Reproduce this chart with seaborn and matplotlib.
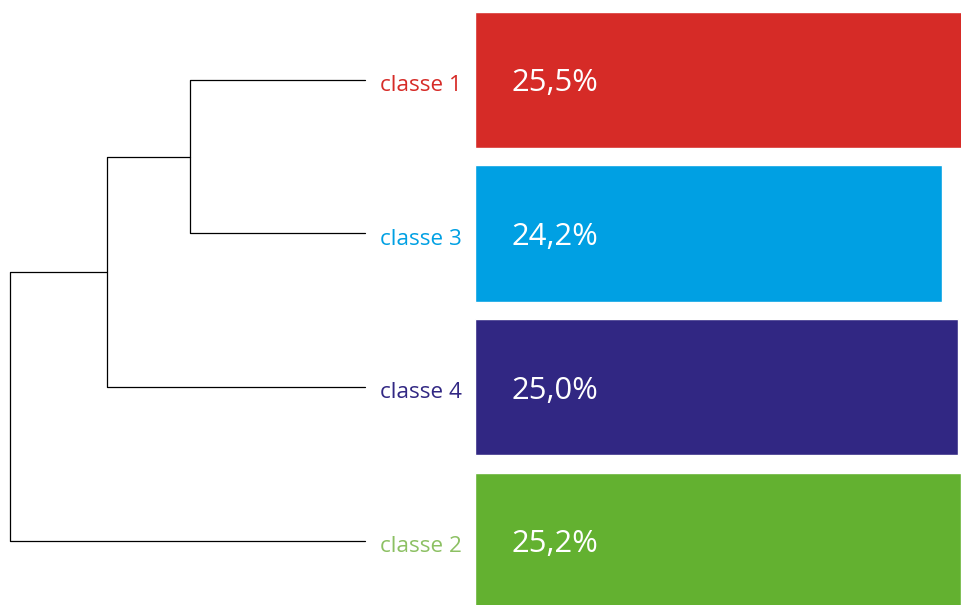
import matplotlib
matplotlib.use("Agg")
import matplotlib.pyplot as plt
import seaborn as sns
import pandas as pd

# classes in display order (top to bottom) and their share
classes = ["classe 1", "classe 3", "classe 4", "classe 2"]
share = [25.5, 24.2, 25.0, 25.2]
pct_labels = ["25,5%", "24,2%", "25,0%", "25,2%"]
bar_colors = ["#D62B27", "#00A0E3", "#312783", "#63B130"]
label_colors = ["#D62B27", "#00A0E3", "#312783", "#8CC063"]

# dendrogram merges: (child a, child b, height); leaves are 0..3, new nodes 4, 5, 6
merges = [(0, 1, 1.75), (4, 2, 2.58), (5, 3, 3.55)]

sns.set_style("white")
plt.rcParams['font.family'] = ['Open Sans', 'DejaVu Sans']

fig = plt.figure(figsize=(9.61, 6.05), dpi=100)
ax_d = fig.add_axes([0, 0, 475/961, 1])
ax_b = fig.add_axes([475/961, 0, 486/961, 1])

ylim = (3.42, -0.521)

# bars
df = pd.DataFrame({"classe": classes, "share": share})
sns.barplot(data=df, x="share", y="classe", hue="classe", palette=bar_colors,
            order=classes, hue_order=classes, width=0.886, legend=False,
            saturation=1, ax=ax_b, orient="h")
for i, t in enumerate(pct_labels):
    ax_b.text(1.9, i, t, color="white", fontsize=22.3, va="center_baseline", ha="left")
ax_b.set_xlim(0, 486/19.3)
ax_b.set_ylim(*ylim)
ax_b.axis("off")

# dendrogram
pos = {i: (0.0, float(i)) for i in range(len(classes))}
node = len(classes)
for a, b, h in merges:
    xa, ya = pos[a]
    xb, yb = pos[b]
    ax_d.plot([xa, h, h, xb], [ya, ya, yb, yb], color="black", lw=0.9)
    pos[node] = (h, (ya + yb) / 2)
    node += 1

for i, c in enumerate(classes):
    ax_d.text(-0.15, i + 0.02, c, color=label_colors[i], fontsize=16.2,
              va="center_baseline", ha="left")

ax_d.set_xlim(3.65, -1.1)
ax_d.set_ylim(*ylim)
ax_d.axis("off")

plt.savefig("out.png", dpi=100)
